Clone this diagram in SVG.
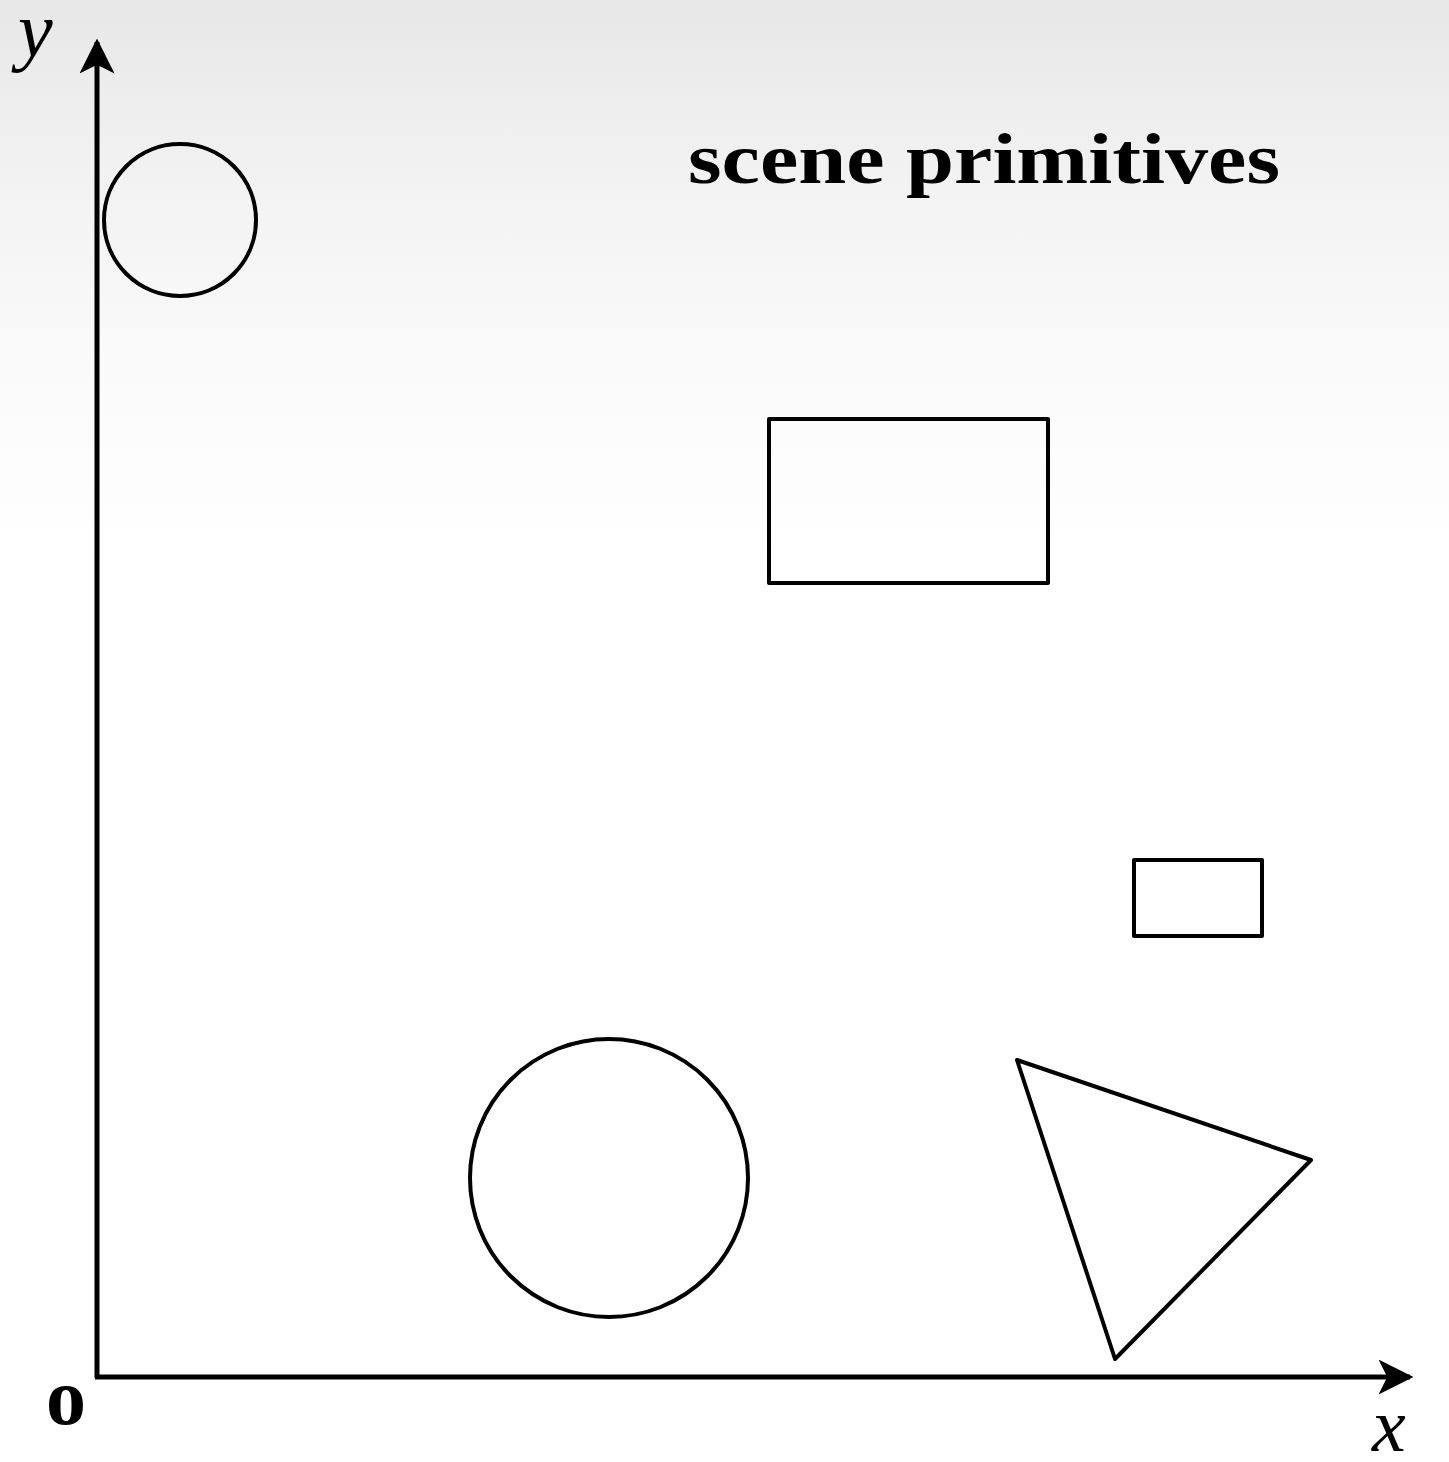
<svg xmlns="http://www.w3.org/2000/svg" width="1449" height="1462" viewBox="0 0 1449 1462">
  <defs>
    <linearGradient id="bg" x1="0" y1="0" x2="0" y2="1">
      <stop offset="0" stop-color="#e7e7e7"/>
      <stop offset="0.12" stop-color="#f2f2f2"/>
      <stop offset="0.25" stop-color="#fafafa"/>
      <stop offset="0.38" stop-color="#ffffff"/>
      <stop offset="1" stop-color="#ffffff"/>
    </linearGradient>
    <marker id="arrow" viewBox="0 0 10 10" refX="9" refY="5" markerWidth="7" markerHeight="7" markerUnits="strokeWidth" orient="auto">
      <path d="M0,0 L10,5 L0,10 L2.5,5 Z" fill="#000"/>
    </marker>
    <style>
      .shape { fill: none; stroke: #000; stroke-width: 4; stroke-linejoin: round; }
      .axis { fill: none; stroke: #000; stroke-width: 5; }
      .lbl { font-family: "Liberation Serif", serif; fill: #000; }
    </style>
  </defs>
  <rect x="0" y="0" width="1449" height="1462" fill="url(#bg)"/>
  <g id="connectors">
    <path class="axis" d="M97,1378 L97,42" marker-end="url(#arrow)"/>
    <path class="axis" d="M95,1377 L1410,1377" marker-end="url(#arrow)"/>
  </g>
  <g id="circle-small"><circle class="shape" cx="180" cy="220" r="76"/></g>
  <g id="rect-large"><rect class="shape" x="769" y="419" width="279" height="164"/></g>
  <g id="rect-small"><rect class="shape" x="1134" y="860" width="128" height="76"/></g>
  <g id="circle-large"><circle class="shape" cx="609" cy="1178" r="139"/></g>
  <g id="triangle"><polygon class="shape" points="1017,1060 1311,1160 1115,1359"/></g>
  <g id="title"><text class="lbl" x="688" y="183" font-size="72" font-weight="bold" textLength="592" lengthAdjust="spacingAndGlyphs">scene primitives</text></g>
  <g id="label-y"><text class="lbl" x="18" y="56" font-size="78" font-style="italic">y</text></g>
  <g id="label-x"><text class="lbl" x="1372" y="1451" font-size="76" font-style="italic">x</text></g>
  <g id="label-o"><text class="lbl" x="46" y="1424" font-size="80" font-weight="bold">o</text></g>
</svg>
